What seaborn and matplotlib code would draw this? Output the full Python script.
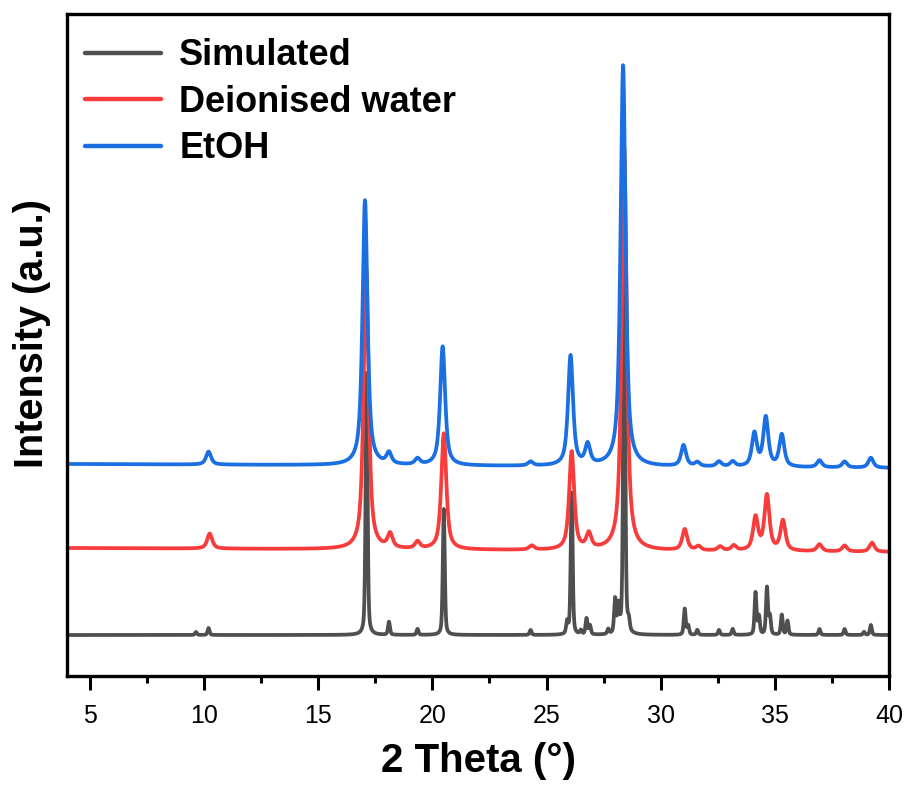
import numpy as np
import pandas as pd
import matplotlib
matplotlib.use("Agg")
import matplotlib.pyplot as plt
import seaborn as sns
from matplotlib.ticker import MultipleLocator

# ---------------- data ----------------
series_names = ["Simulated", "Deionised water", "EtOH"]

# baseline (offset) at 2θ = 4 and 2θ = 40, arbitrary units
sim_baseline = [41, 41]
water_baseline = [128, 124]
etoh_baseline = [212, 208]

# peak positions (2θ, °) and heights above baseline (a.u.)
sim_pos = [9.65, 10.2, 17.12, 18.1, 19.35, 20.5, 24.3, 25.9, 26.1, 26.5, 26.75, 26.9,
           27.7, 28.0, 28.15, 28.4, 28.6, 31.05, 31.2, 31.6, 32.55, 33.15, 34.15, 34.3,
           34.65, 34.78, 35.3, 35.55, 36.95, 38.05, 38.9, 39.2]
sim_int = [3, 7, 262, 13, 6, 126, 5, 12, 142, 4, 16, 9,
           5, 34, 26, 392, 10, 26, 9, 5, 5, 6, 42, 18,
           47, 18, 20, 14, 6, 6, 3, 10]

water_pos = [10.25, 17.1, 18.15, 19.35, 20.5, 24.35, 26.1, 26.85, 28.4, 31.05, 31.65,
             32.6, 33.2, 34.15, 34.65, 35.35, 36.95, 38.05, 39.25]
water_int = [15, 282, 14, 7, 116, 4, 98, 15, 402, 21, 4,
             4, 5, 33, 55, 30, 7, 6, 9]

etoh_pos = [10.2, 17.05, 18.1, 19.35, 20.45, 24.3, 26.05, 26.8, 28.35, 31.0, 31.6,
            32.55, 33.15, 34.1, 34.6, 35.3, 36.95, 38.05, 39.2]
etoh_int = [13, 265, 11, 6, 119, 4, 110, 20, 401, 21, 4,
            5, 5, 33, 49, 32, 7, 6, 10]

# ---------------- build the profiles ----------------
two_theta = np.linspace(4, 40, 3601)


def profile(pos, inten, base, fwhm, eta):
    y = np.interp(two_theta, [4, 40], base).astype(float)
    for p, h in zip(pos, inten):
        d = (two_theta - p) / (fwhm / 2.0)
        lor = 1.0 / (1.0 + d ** 2)
        gau = np.exp(-np.log(2) * d ** 2)
        y += h * (eta * lor + (1 - eta) * gau)
    return y


curves = {
    "Simulated": profile(sim_pos, sim_int, sim_baseline, 0.10, 0.45),
    "Deionised water": profile(water_pos, water_int, water_baseline, 0.26, 0.75),
    "EtOH": profile(etoh_pos, etoh_int, etoh_baseline, 0.26, 0.75),
}

df = pd.concat([pd.DataFrame({"two_theta": two_theta, "intensity": curves[n], "sample": n})
                for n in series_names], ignore_index=True)

# ---------------- plot ----------------
sns.set_theme(style="white")
plt.rcParams["font.family"] = ["Liberation Sans", "DejaVu Sans"]
plt.rcParams["text.color"] = "black"
plt.rcParams["axes.labelcolor"] = "black"

fig = plt.figure(figsize=(9.11, 7.94), dpi=100)
ax = fig.add_axes([0.0735, 0.1486, 0.9025, 0.8338])

palette = {"Simulated": "#4f4f4f", "Deionised water": "#f83b3b", "EtOH": "#1a6fe3"}
sns.lineplot(data=df, x="two_theta", y="intensity", hue="sample", hue_order=series_names,
             palette=palette, linewidth=2.7, sort=False, estimator=None, ax=ax)

ax.set_xlim(4, 40)
ax.set_ylim(0, 662)
ax.set_yticks([])
ax.xaxis.set_major_locator(MultipleLocator(5))
ax.xaxis.set_minor_locator(MultipleLocator(2.5))
ax.tick_params(axis="x", which="major", direction="out", length=10, width=2.2,
               labelsize=18, pad=10, bottom=True, color="black", labelcolor="black")
ax.tick_params(axis="x", which="minor", direction="out", length=5, width=2.2,
               bottom=True, color="black")
for s in ax.spines.values():
    s.set_linewidth(2.4)
    s.set_color("black")

ax.set_xlabel("2 Theta (°)", fontsize=29, fontweight="bold", labelpad=10, color="black")
ax.set_ylabel("Intensity (a.u.)", fontsize=28.5, fontweight="bold", color="black")
ax.yaxis.set_label_coords(-0.020, 0.518)

leg = ax.legend(loc="upper left", frameon=False, prop={"size": 26, "weight": "bold"},
                handlelength=2.1, handletextpad=0.5, labelspacing=0.32,
                borderaxespad=0.0, bbox_to_anchor=(0.0047, 0.985))
for line in leg.get_lines():
    line.set_linewidth(3.2)
for t in leg.get_texts():
    t.set_color("black")

fig.savefig("out.png", dpi=100)
